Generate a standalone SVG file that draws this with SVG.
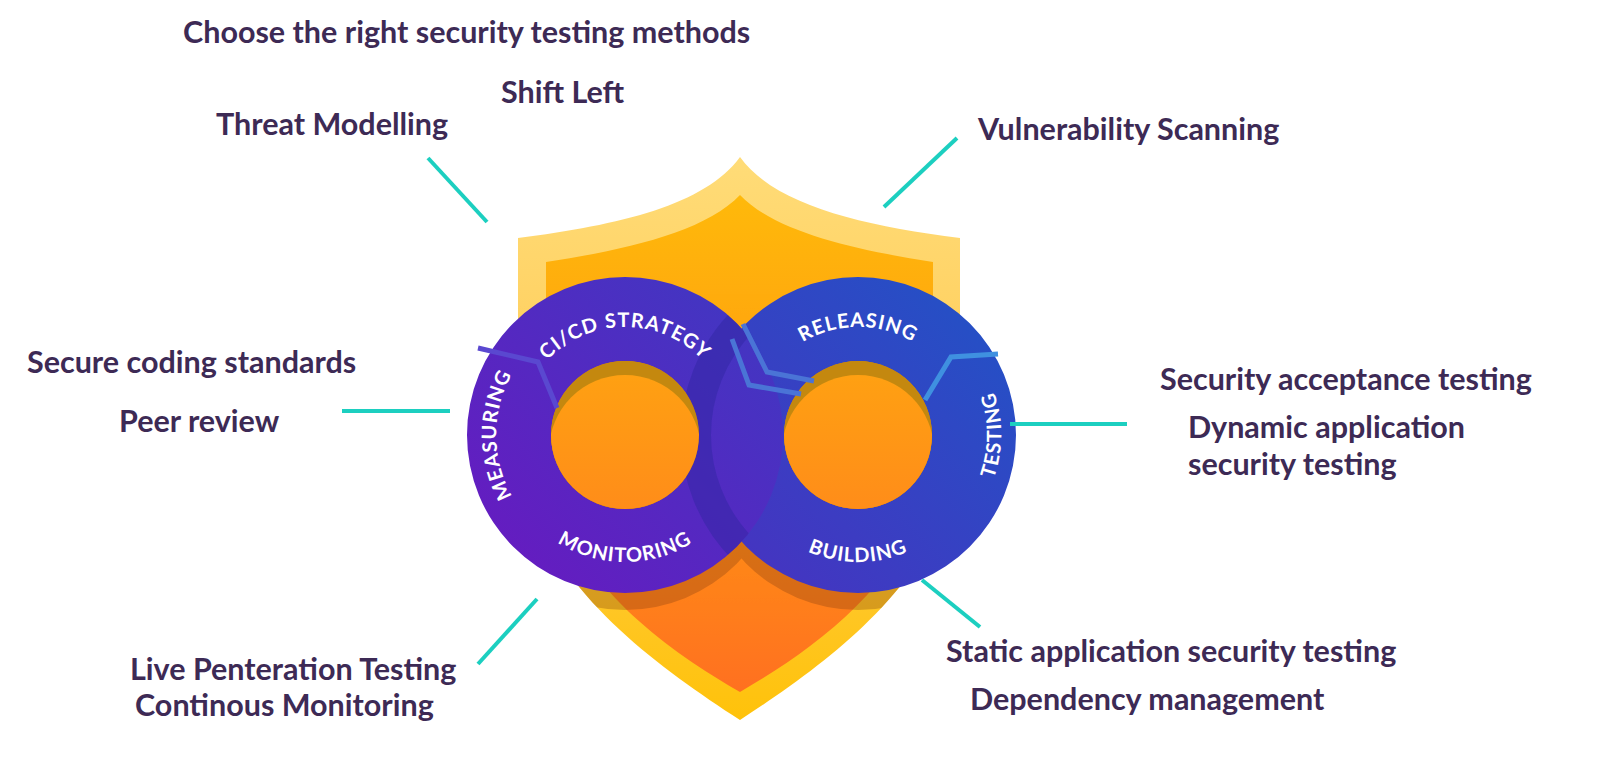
<svg xmlns="http://www.w3.org/2000/svg" width="1600" height="773" viewBox="0 0 1600 773">
<style>
.lbl{font-family:Lato,"Open Sans",sans-serif;font-weight:700;font-size:30.5px;fill:#3d2a55}
.ring{font-family:Lato,"Open Sans",sans-serif;font-weight:700;font-size:20px;fill:#fff;letter-spacing:1px}
.con{stroke:#1ccfc0;stroke-width:4;fill:none}
.trace{fill:none;stroke-width:5;stroke-linejoin:miter}
</style>
<defs>
<linearGradient id="gOut" x1="0" y1="0" x2="0" y2="1"><stop offset="0" stop-color="#ffdc78"/><stop offset="0.35" stop-color="#ffd060"/><stop offset="1" stop-color="#ffc20a"/></linearGradient>
<linearGradient id="gIn" x1="0" y1="0" x2="0" y2="1"><stop offset="0" stop-color="#ffb90a"/><stop offset="0.5" stop-color="#ff9a12"/><stop offset="1" stop-color="#ff7020"/></linearGradient>
<linearGradient id="gL" x1="0" y1="1" x2="1" y2="0"><stop offset="0" stop-color="#6a18c0"/><stop offset="1" stop-color="#3d3ac2"/></linearGradient>
<linearGradient id="gR" x1="0" y1="1" x2="1" y2="0"><stop offset="0" stop-color="#4a30c0"/><stop offset="1" stop-color="#2054c6"/></linearGradient>
<linearGradient id="gHole" x1="0" y1="0" x2="0" y2="1"><stop offset="0" stop-color="#ffa012"/><stop offset="1" stop-color="#ff8a1a"/></linearGradient>
<clipPath id="hL"><circle cx="625" cy="435" r="74"/></clipPath>
<clipPath id="hR"><circle cx="858" cy="435" r="74"/></clipPath>
<clipPath id="cL"><path clip-rule="evenodd" d="M467,435 a158,158 0 1 0 316,0 a158,158 0 1 0 -316,0 Z M551,435 a74,74 0 1 1 148,0 a74,74 0 1 1 -148,0 Z"/></clipPath>
<clipPath id="cS"><path d="M740,157 C705,205 620,225 518,238 L518,430 C518,565 640,655 740,720 C840,655 960,565 960,430 L960,238 C860,225 775,205 740,157 Z"/></clipPath>
<path id="pLtop" d="M517,435 A108,108 0 0 1 733,435"/>
<path id="pLbot" d="M498,435 A127,127 0 0 0 752,435"/>
<path id="pLleft" d="M540,530 A125,125 0 0 1 540,340"/>
<path id="pRtop" d="M750,435 A108,108 0 0 1 966,435"/>
<path id="pRbot" d="M731,435 A127,127 0 0 0 985,435"/>
<path id="pRright" d="M960,530 A130,130 0 0 0 960,340"/>
</defs>
<g id="shield">
<path d="M740,157 C705,205 620,225 518,238 L518,430 C518,565 640,655 740,720 C840,655 960,565 960,430 L960,238 C860,225 775,205 740,157 Z" fill="url(#gOut)"/>
<path d="M740,195 C705,232 625,250 546,262 L546,440 C546,560 650,640 740,692 C830,640 933,560 933,440 L933,262 C855,250 775,232 740,195 Z" fill="url(#gIn)"/>
</g>
<g id="ringShadow" fill="#7a3a10" opacity="0.3" clip-path="url(#cS)">
<circle cx="625" cy="452" r="158"/><circle cx="858" cy="452" r="158"/>
</g>
<g id="ringRight">
<path d="M700,435 a158,158 0 1 0 316,0 a158,158 0 1 0 -316,0 Z M784,435 a74,74 0 1 1 148,0 a74,74 0 1 1 -148,0 Z" fill="url(#gR)" fill-rule="evenodd"/>
<g clip-path="url(#hR)"><rect x="780" y="355" width="160" height="160" fill="#c4880f"/><circle cx="858" cy="451" r="76" fill="url(#gHole)"/></g>
</g>
<g id="ringLeft">
<path d="M467,435 a158,158 0 1 0 316,0 a158,158 0 1 0 -316,0 Z M551,435 a74,74 0 1 1 148,0 a74,74 0 1 1 -148,0 Z" fill="url(#gL)" fill-rule="evenodd"/>
<g clip-path="url(#hL)"><rect x="545" y="355" width="160" height="160" fill="#c4880f"/><circle cx="625" cy="451" r="76" fill="url(#gHole)"/></g>
<g clip-path="url(#cL)"><circle cx="858" cy="435" r="162" fill="none" stroke="#2e25a0" stroke-width="30" opacity="0.45"/></g>
</g>
<g id="traces">
<polyline class="trace" points="478,348 538,362 557,408" stroke="#5a48d0"/>
<polyline class="trace" points="743,324 767,372 814,381" stroke="#4a74d6"/>
<polyline class="trace" points="732,339 749,385 801,394" stroke="#4a74d6"/>
<polyline class="trace" points="925,400 951,357 998,354" stroke="#3f90e0"/>
</g>
<g id="ringText">
<text class="ring"><textPath href="#pLtop" startOffset="50%" text-anchor="middle">CI/CD STRATEGY</textPath></text>
<text class="ring"><textPath href="#pLbot" startOffset="50%" text-anchor="middle">MONITORING</textPath></text>
<text class="ring"><textPath href="#pLleft" startOffset="50%" text-anchor="middle">MEASURING</textPath></text>
<text class="ring"><textPath href="#pRtop" startOffset="50%" text-anchor="middle">RELEASING</textPath></text>
<text class="ring"><textPath href="#pRbot" startOffset="50%" text-anchor="middle">BUILDING</textPath></text>
<text class="ring"><textPath href="#pRright" startOffset="50%" text-anchor="middle">TESTING</textPath></text>
</g>
<g id="connectors">
<line class="con" x1="428" y1="158" x2="487" y2="222"/>
<line class="con" x1="957" y1="138" x2="884" y2="207"/>
<line class="con" x1="342" y1="411" x2="450" y2="411"/>
<line class="con" x1="1010" y1="424" x2="1127" y2="424"/>
<line class="con" x1="478" y1="664" x2="537" y2="599"/>
<line class="con" x1="922" y1="580" x2="980" y2="627"/>
</g>
<g id="labels">
<text class="lbl" x="183" y="43">Choose the right security testing methods</text>
<text class="lbl" x="501" y="103">Shift Left</text>
<text class="lbl" x="216" y="135">Threat Modelling</text>
<text class="lbl" x="978" y="140">Vulnerability Scanning</text>
<text class="lbl" x="27" y="373">Secure coding standards</text>
<text class="lbl" x="119" y="432">Peer review</text>
<text class="lbl" x="1160" y="390">Security acceptance testing</text>
<text class="lbl" x="1188" y="438">Dynamic application</text>
<text class="lbl" x="1188" y="475">security testing</text>
<text class="lbl" x="130" y="680">Live Penteration Testing</text>
<text class="lbl" x="135" y="716">Continous Monitoring</text>
<text class="lbl" x="946" y="662">Static application security testing</text>
<text class="lbl" x="970" y="710">Dependency management</text>
</g>
</svg>
